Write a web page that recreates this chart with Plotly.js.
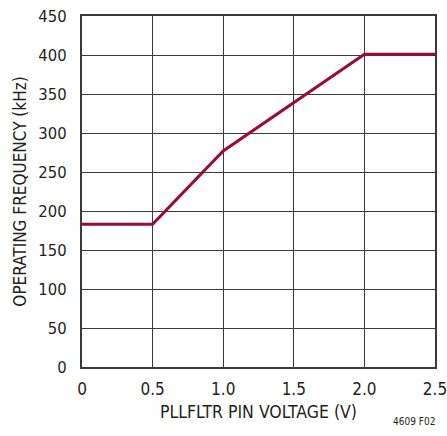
<!DOCTYPE html>
<html>
<head>
<meta charset="utf-8">
<script src="https://cdn.plot.ly/plotly-3.0.1.min.js"></script>
<style>
html,body{margin:0;padding:0;background:#fff;}
#chart{width:447px;height:436px;}
</style>
</head>
<body>
<div id="chart"></div>
<script>
const voltage = [0, 0.5, 1.0, 2.0, 2.5];
const frequency = [183, 183, 277, 401, 401];
const xTicks = [0, 0.5, 1.0, 1.5, 2.0, 2.5];
const xTickLabels = ['0', '0.5', '1.0', '1.5', '2.0', '2.5'];
const yTicks = [0, 50, 100, 150, 200, 250, 300, 350, 400, 450];

const FONT = '"DejaVu Sans Condensed", "Liberation Sans Narrow", "Liberation Sans", Arial, sans-serif';

const trace = {
  x: voltage, y: frequency, type: 'scatter', mode: 'lines',
  line: {color: '#9b0a35', width: 3},
  hoverinfo: 'skip'
};

const layout = {
  width: 447, height: 436,
  margin: {l: 82, r: 12, t: 16, b: 69},
  paper_bgcolor: '#fff', plot_bgcolor: '#fff',
  showlegend: false,
  font: {family: FONT, color: '#231f20'},
  xaxis: {
    range: [0, 2.5], tickvals: xTicks, ticktext: xTickLabels,
    showgrid: true, gridcolor: '#3a3a3a', gridwidth: 1,
    zeroline: false, showline: true, linecolor: '#3a3a3a', linewidth: 2, mirror: true,
    ticks: '', ticklabelstandoff: 6, ticklabeloverflow: 'allow',
    tickfont: {size: 17, family: FONT, color: '#231f20'},
    title: {text: 'PLLFLTR PIN VOLTAGE (V)', font: {size: 17.5, family: FONT, color: '#231f20'}, standoff: 7}
  },
  yaxis: {
    range: [0, 450], tickvals: yTicks,
    showgrid: true, gridcolor: '#3a3a3a', gridwidth: 1,
    zeroline: false, showline: true, linecolor: '#3a3a3a', linewidth: 2, mirror: true,
    ticks: '', ticklabelstandoff: 10,
    tickfont: {size: 16.5, family: FONT, color: '#231f20'},
    title: {text: 'OPERATING FREQUENCY (kHz)', font: {size: 17, family: FONT, color: '#231f20'}, standoff: 7}
  },
  annotations: [{
    text: '4609 F02', xref: 'paper', yref: 'paper', x: 1.005, y: -0.156,
    xanchor: 'right', yanchor: 'middle', showarrow: false,
    font: {size: 10, family: FONT, color: '#231f20'}
  }]
};

Plotly.newPlot('chart', [trace], layout, {displayModeBar: false, staticPlot: true});
</script>
</body>
</html>
